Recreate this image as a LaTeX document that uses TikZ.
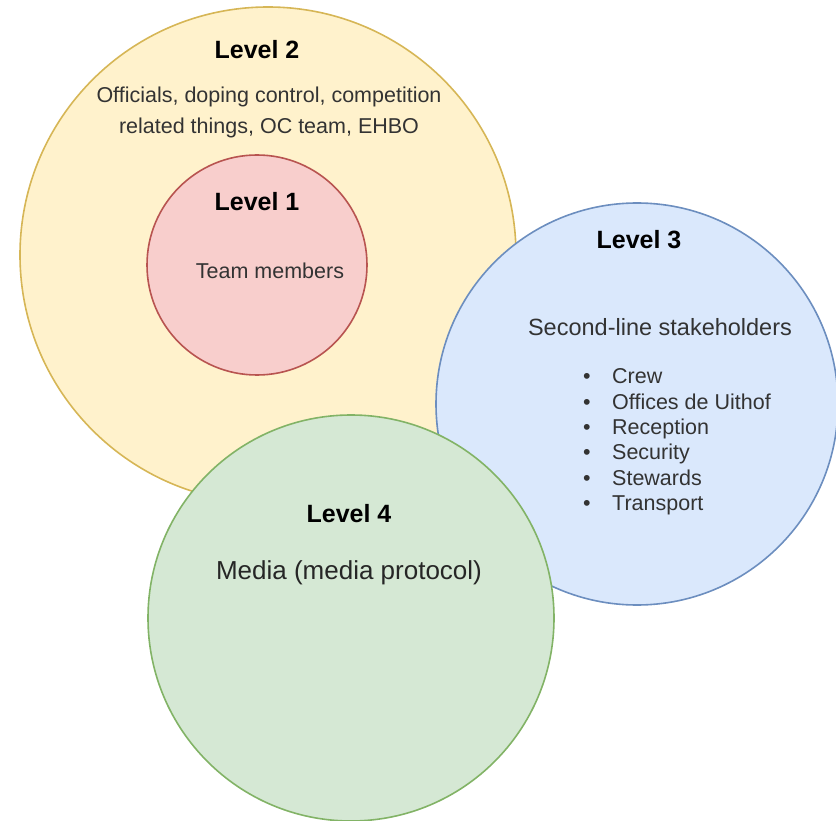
\documentclass[tikz,border=0pt]{standalone}
\usepackage{fontspec}
\setmainfont{Liberation Sans}
\usetikzlibrary{positioning}

\definecolor{yelfill}{HTML}{FFF2CC}
\definecolor{yeldraw}{HTML}{D6B656}
\definecolor{redfill}{HTML}{F8CECC}
\definecolor{reddraw}{HTML}{B85450}
\definecolor{blufill}{HTML}{DAE8FC}
\definecolor{bludraw}{HTML}{6C8EBF}
\definecolor{grnfill}{HTML}{D5E8D4}
\definecolor{grndraw}{HTML}{82B366}
\definecolor{bodytext}{HTML}{333333}

\begin{document}
\begin{tikzpicture}[x=1pt,y=-1pt,
    level/.style={circle,inner sep=0pt,line width=1.6pt},
    title/.style={font=\fontsize{25}{30}\selectfont\bfseries,text=black,inner sep=0pt},
    body/.style={font=\fontsize{21.5}{31}\selectfont,text=bodytext,inner sep=0pt,align=center}]
  \useasboundingbox (0,0) rectangle (836,821);
  % circles, back to front
  \node[level,fill=yelfill,draw=yeldraw,minimum size=496pt] (lvl2) at (268,255) {};
  \node[level,fill=redfill,draw=reddraw,minimum size=220pt] (lvl1) at (257,265) {};
  \node[level,fill=blufill,draw=bludraw,minimum size=402pt] (lvl3) at (637,404) {};
  \node[level,fill=grnfill,draw=grndraw,minimum size=406pt] (lvl4) at (351,618) {};
  % level 2
  \node[title] (t2) at (257,50) {Level 2};
  \node[body] (b2) at (269,112) {Officials, doping control, competition\\related things, OC team, EHBO};
  % level 1
  \node[title] (t1) at (257,202) {Level 1};
  \node[body] (b1) at (270,271) {Team members};
  % level 3
  \node[title] (t3) at (639,240) {Level 3};
  \node[body,font=\fontsize{23.5}{28}\selectfont] (b3) at (660,327) {Second-line stakeholders};
  \node[body,align=left,anchor=west,font=\fontsize{21.5}{25.4}\selectfont] (list3) at (583,442)
    {\makebox[29pt][l]{\textbullet}Crew\\
     \makebox[29pt][l]{\textbullet}Offices de Uithof\\
     \makebox[29pt][l]{\textbullet}Reception\\
     \makebox[29pt][l]{\textbullet}Security\\
     \makebox[29pt][l]{\textbullet}Stewards\\
     \makebox[29pt][l]{\textbullet}Transport};
  % level 4
  \node[title] (t4) at (349,514) {Level 4};
  \node[body,font=\fontsize{26}{31}\selectfont,text=black!85] (b4) at (349,573) {Media (media protocol)};
\end{tikzpicture}
\end{document}
